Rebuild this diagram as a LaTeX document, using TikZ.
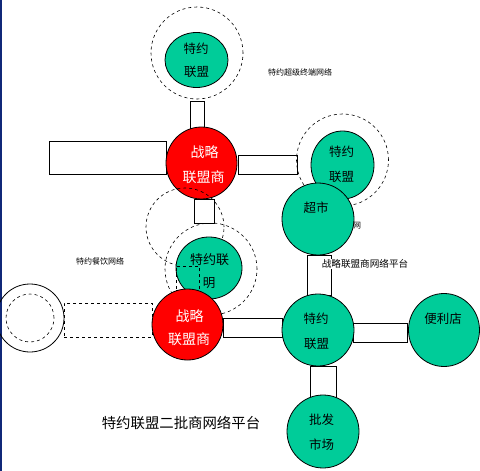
\documentclass[tikz,border=0pt]{standalone}
\usepackage{fontspec}
\newfontfamily\cjk{Noto Sans CJK SC}
\usetikzlibrary{shapes.geometric}
\definecolor{tgreen}{RGB}{0,204,153}
\definecolor{tred}{RGB}{255,0,0}
\definecolor{edgeblue}{RGB}{16,40,120}
\begin{document}
\begin{tikzpicture}[x=1pt,y=-1pt,
  ball/.style={ellipse, draw=black, line width=0.8pt, inner sep=0pt},
  gball/.style={ball, fill=tgreen},
  rball/.style={ball, fill=tred},
  ring/.style={circle, draw=black, dashed, line width=0.6pt, inner sep=0pt},
  bar/.style={rectangle, draw=black, fill=white, line width=0.8pt, inner sep=0pt},
  dbar/.style={rectangle, draw=black, dashed, line width=0.6pt, inner sep=0pt},
  lbl/.style={font=\cjk\fontsize{12.5}{14}\selectfont, inner sep=0pt},
  wlbl/.style={font=\cjk\fontsize{14}{16}\selectfont, text=white, inner sep=0pt},
  tinylbl/.style={font=\cjk\fontsize{8}{9}\selectfont, inner sep=0pt}]
\useasboundingbox (0,0) rectangle (480,471);
\fill[white] (0,0) rectangle (480,471);
\fill[edgeblue] (0,0) rectangle (1.5,471);

% top group
\node[ring, minimum size=92pt] (ringTop) at (197,53) {};
\node[gball, minimum width=63pt, minimum height=55pt] (gTop) at (196.5,60) {};
\node[lbl] (tTopA) at (196,49) {特约};
\node[lbl] (tTopB) at (196.5,72) {联盟};
\node[bar, minimum width=14pt, minimum height=27pt] (barTop) at (197,114.5) {};

% first red group
\node[bar, minimum width=117pt, minimum height=33pt] (barLeft) at (107.5,157.5) {};
\node[bar, minimum width=59pt, minimum height=19pt] (barR1) at (267.5,164.5) {};
\node[rball, minimum width=71pt, minimum height=72pt] (red1) at (201.5,163) {};
\node[wlbl] (tR1A) at (204.5,152) {战略};
\node[wlbl] (tR1B) at (203.5,177) {联盟商};

% right upper group
\node[ring, minimum size=92pt] (ringR) at (342.5,160) {};
\node[gball, minimum width=63pt, minimum height=68pt] (g2) at (342.5,165) {};
\node[lbl] (tG2A) at (341.5,152) {特约};
\node[lbl] (tG2B) at (341.5,177) {联盟};
\node[gball, minimum width=72pt, minimum height=72pt] (super) at (318,219) {};
\node[lbl] (tSuper) at (316,208) {超市};
\node[tinylbl] (tTiny) at (357,226) {网};
\node[bar, minimum width=24pt, minimum height=40pt] (barSuper) at (319,275) {};
\node[font=\cjk\fontsize{9.6}{11}\selectfont, fill=white, inner sep=0.5pt] (tPlat) at (365,264) {战略联盟商网络平台};

\node[tinylbl] (tNet1) at (300,72) {特约超级终端网络};
\node[tinylbl] (tNet2) at (100,261) {特约餐饮网络};

% middle group
\node[ring, minimum size=92pt] (ringB) at (211,269) {};
\node[ring, minimum size=78pt] (ringA) at (185,227) {};
\node[gball, minimum width=66pt, minimum height=62pt] (g3) at (209,268) {};
\node[lbl, font=\cjk\fontsize{13}{15}\selectfont] (tG3A) at (209.5,260) {特约联};
\node[lbl] (tG3B) at (209,283) {明};
\node[dbar, minimum width=23pt, minimum height=24pt] (dashSmall) at (187.5,278) {};
\node[bar, minimum width=20pt, minimum height=24pt] (barMid) at (204,211) {};

% left group
\node[circle, draw=black, line width=0.8pt, minimum size=68pt, inner sep=0pt] (ringLO) at (30,318) {};
\node[ring, minimum size=48pt] (ringLI) at (30,318) {};
\node[dbar, minimum width=88pt, minimum height=34pt] (barDashL) at (108,320) {};

% bottom group
\node[bar, minimum width=59pt, minimum height=19pt] (barR2) at (252.5,327.5) {};
\node[bar, minimum width=54pt, minimum height=19pt] (barShop) at (380,332.5) {};
\node[bar, minimum width=26pt, minimum height=31pt] (barDown) at (323,381.5) {};
\node[rball, minimum width=71pt, minimum height=71pt] (red2) at (187.5,324.5) {};
\node[wlbl] (tR2A) at (189.5,316) {战略};
\node[wlbl] (tR2B) at (189,339) {联盟商};
\node[gball, minimum width=72pt, minimum height=72pt] (gMain) at (318,330) {};
\node[lbl] (tMainA) at (316,319) {特约};
\node[lbl] (tMainB) at (316.5,344) {联盟};
\node[gball, minimum width=71pt, minimum height=73pt] (gShop) at (444,330) {};
\node[lbl] (tShop) at (443,319) {便利店};
\node[gball, minimum width=72pt, minimum height=73pt] (gMarket) at (323,431.5) {};
\node[lbl] (tMktA) at (321.5,420) {批发};
\node[lbl] (tMktB) at (321.5,445) {市场};

\node[font=\cjk\fontsize{14.4}{16}\selectfont, inner sep=0pt] (title) at (181,423) {特约联盟二批商网络平台};
\end{tikzpicture}
\end{document}
